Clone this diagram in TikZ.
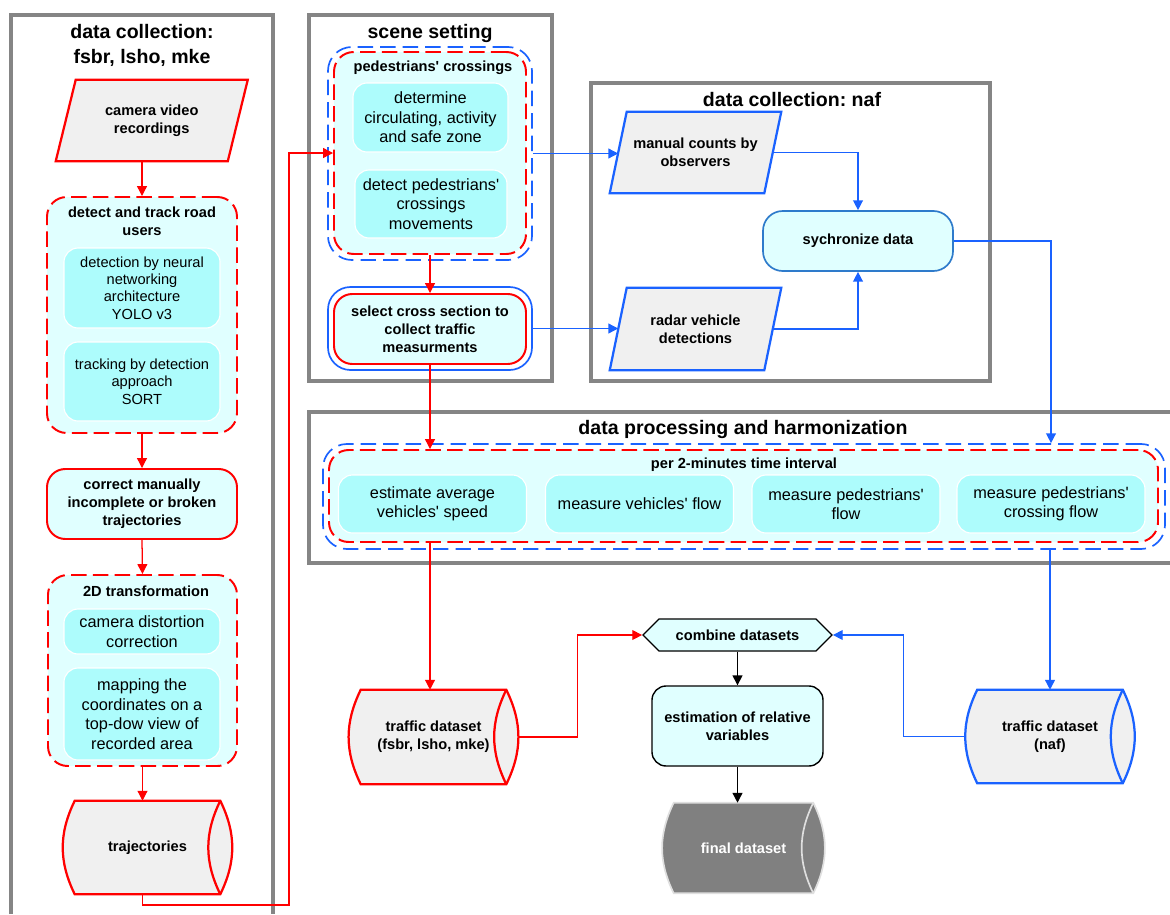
\documentclass[tikz,border=0pt]{standalone}
\usepackage{fontspec}
\setmainfont{Liberation Sans}
\frenchspacing
\usetikzlibrary{arrows.meta, calc, positioning, shapes.symbols, backgrounds}
\definecolor{fcRed}{HTML}{FF0000}
\definecolor{fcBlue}{HTML}{1A62FF}
\definecolor{fcSteel}{HTML}{2E7BCB}
\definecolor{fcLane}{HTML}{858585}
\definecolor{fcCyan}{HTML}{E0FFFF}
\definecolor{fcAqua}{HTML}{ADFCFC}
\definecolor{fcPaper}{HTML}{F0F0F0}
\definecolor{fcDark}{HTML}{808080}
\protected\def\apos{\textquotesingle}
% storage drum round a node: name, look
\newcommand{\drawstore}[2]{%
	\begin{pgfonlayer}{background}
	\draw[#2] ($(#1.north west)+(12,0)$) -- ($(#1.north east)+(-12,0)$)
		to[bend left=26] ($(#1.south east)+(-12,0)$) -- ($(#1.south west)+(12,0)$)
		to[bend left=26] ($(#1.north west)+(12,0)$) -- cycle;
	\draw[#2, fill=none] ($(#1.north east)+(-12,0)$) to[bend right=26] ($(#1.south east)+(-12,0)$);
	\end{pgfonlayer}}
% slanted input box round a node: name, look, slant
\newcommand{\drawinput}[3]{%
	\begin{pgfonlayer}{background}
	\draw[#2] ($(#1.north west)+(#3,0)$) -- ($(#1.north east)+(#3,0)$)
		-- ($(#1.south east)+(-#3,0)$) -- ($(#1.south west)+(-#3,0)$) -- cycle;
	\end{pgfonlayer}}

\begin{document}
\begin{tikzpicture}[x=0.025cm, y=-0.025cm, >={Triangle[length=7pt,width=7pt]},
		sz/.style 2 args={minimum width=#1*0.025cm, minimum height=#2*0.025cm},
		lane/.style={draw=fcLane, line width=2.5pt},
		ttl/.style={font=\fontsize{13.9}{17.8}\selectfont\bfseries, align=center},
		bold/.style={font=\fontsize{10.4}{12.8}\selectfont\bfseries, align=center},
		inbox/.style={draw=white, line width=0.8pt, fill=fcAqua, rounded corners=10pt, align=center, inner ysep=2pt, font=\fontsize{11.6}{13.9}\selectfont},
		inboxs/.style={inbox, font=\fontsize{10.4}{12.4}\selectfont},
		dashred/.style={draw=fcRed, line width=1.4pt, dash pattern=on 11pt off 4.5pt, rounded corners=14pt, fill=fcCyan},
		dashblue/.style={draw=fcBlue, line width=1.2pt, dash pattern=on 11pt off 5pt, rounded corners=17pt},
		proc/.style={bold, draw=fcRed, line width=1.4pt, fill=fcCyan, rounded corners=13pt},
		rcon/.style={draw=fcRed, line width=0.9pt, ->},
		bcon/.style={draw=fcBlue, line width=1pt, ->},
		kcon/.style={draw=black, line width=1pt, ->}]
	\useasboundingbox (0,0) rectangle (1170,914);

	% lanes
	\draw[lane] (11,914) -- (11,15) -- (273,15) -- (273,914);
	\draw[lane] (309,15) rectangle (552,381);
	\draw[lane] (591,83) rectangle (990,381);
	\draw[lane] (1170,412) -- (309,412) -- (309,563) -- (1170,563);
	\node[ttl] (t1) at (142,45) {data collection:\\fsbr, lsho, mke};
	\node[ttl] (t2) at (430,33) {scene setting};
	\node[ttl] (t3) at (792,100) {data collection: naf};
	\node[ttl] (t4) at (743,429) {data processing and harmonization};

	% data collection: fsbr, lsho, mke
	\node[bold, sz={171.5}{81}] (cam) at (151.75,120.5) {camera video\\recordings};
	\drawinput{cam}{draw=fcRed, line width=1.6pt, fill=fcPaper}{10}
	\node[dashred, sz={190}{236}] (track) at (142,315) {};
	\node[bold] (tracktl) at (142,221) {detect and track road\\users};
	\node[inboxs, sz={156}{80}] (yolo) at (142,288) {detection by neural\\networking\\architecture\\YOLO v3};
	\node[inboxs, sz={156}{79}] (sort) at (142,381.5) {tracking by detection\\approach\\SORT};
	\node[proc, sz={190}{70}] (fix) at (142,504) {correct manually\\incomplete or broken\\trajectories};
	\node[dashred, sz={189}{191}] (trans) at (142.5,670.5) {};
	\node[bold] (transtl) at (146,591) {2D transformation};
	\node[inbox, sz={156}{45}] (distort) at (142,631.5) {camera distortion\\correction};
	\node[inbox, sz={156}{92}] (mapping) at (142,714) {mapping the\\coordinates on a\\top-dow view of\\recorded area};
	\node[bold, sz={169}{93}] (traj) at (147.5,847.5) {trajectories};
	\drawstore{traj}{draw=fcRed, line width=1.6pt, fill=fcPaper}

	% scene setting
	\node[dashblue, sz={204}{213}] (pedout) at (430,153.5) {};
	\node[dashred, sz={192}{202}] (ped) at (430,153) {};
	\node[bold] (pedtl) at (433,68) {pedestrians\apos{} crossings};
	\node[inbox, sz={155}{69}] (zone) at (430.5,117.5) {determine\\circulating, activity\\and safe zone};
	\node[inbox, sz={152}{68}] (move) at (431,204) {detect pedestrians\apos\\crossings\\movements};
	\node[draw=fcBlue, line width=1.2pt, rounded corners=16pt, sz={204}{83}] (selout) at (430,328.5) {};
	\node[proc, sz={192}{70}] (sel) at (430,329) {select cross section to\\collect traffic\\measurments};

	% data collection: naf
	\node[bold, sz={154}{81}] (manual) at (695.5,152.5) {manual counts by\\observers};
	\drawinput{manual}{draw=fcBlue, line width=1.6pt, fill=fcPaper}{8.5}
	\node[bold, sz={154}{82}] (radar) at (695.5,329) {radar vehicle\\detections};
	\drawinput{radar}{draw=fcBlue, line width=1.6pt, fill=fcPaper}{8.5}
	\node[bold, draw=fcSteel, line width=1.2pt, fill=fcCyan, rounded corners=14pt, sz={190}{60}] (sync) at (858,241) {sychronize data};

	% data processing and harmonization
	\node[dashblue, sz={842}{105}] (procout) at (744,496.5) {};
	\node[dashred, sz={829}{92}] (proc) at (743.5,496) {};
	\node[bold] (proctl) at (744,465) {per 2-minutes time interval};
	\node[inbox, sz={188}{58}] (speed) at (432.5,504) {estimate average\\vehicles\apos{} speed};
	\node[inbox, sz={188}{58}] (vflow) at (639.5,504) {measure vehicles\apos{} flow};
	\node[inbox, sz={188}{58}] (pflow) at (846,504) {measure pedestrians\apos\\flow};
	\node[inbox, sz={188}{58}] (cflow) at (1051,504) {measure pedestrians\apos\\crossing flow};

	% datasets
	\node[bold, sz={169}{94}] (fsbr) at (433.5,737) {traffic dataset\\(fsbr, lsho, mke)};
	\drawstore{fsbr}{draw=fcRed, line width=1.6pt, fill=fcPaper}
	\node[signal, signal to=east and west, signal pointer angle=90, draw=black, line width=0.9pt, fill=fcCyan, bold, sz={189}{32}, inner sep=0pt] (combine) at (737.5,635) {combine datasets};
	\node[bold, draw=black, line width=1pt, fill=fcCyan, rounded corners=10pt, sz={171}{80}] (relvar) at (737.5,726) {estimation of relative\\variables};
	\node[bold, text=white, sz={163}{90}] (final) at (743.5,848) {final dataset};
	\drawstore{final}{draw=white!75!gray, line width=1.2pt, fill=fcDark}
	\node[bold, sz={169}{93}] (naf) at (1050,736.5) {traffic dataset\\(naf)};
	\drawstore{naf}{draw=fcBlue, line width=1.6pt, fill=fcPaper}

	% connectors
	\coordinate (turn) at (289,905);
	\draw[rcon] (cam.south -| track.north) -- (track.north);
	\draw[rcon] (track.south) -- (fix.north);
	\draw[rcon] (fix.south) -- (trans.north);
	\draw[rcon] (trans.south) -- (trans.south |- traj.north);
	\draw[rcon] (trans.south |- traj.south) |- (turn) |- (ped.west);
	\draw[rcon] (ped.south) -- (sel.north);
	\draw[bcon] (pedout.east) -- (pedout.east -| manual.west);
	\draw[bcon] (selout.east) -- (selout.east -| radar.west);
	\draw[bcon] (manual.east) -| (sync.north);
	\draw[bcon] (radar.east) -| (sync.south);
	\draw[bcon] (sync.east) -| (cflow.north |- procout.north);
	\draw[rcon] (sel.south) -- (sel.south |- proc.north);
	\draw[rcon] (sel.south |- proc.south) -- (sel.south |- fsbr.north);
	\draw[bcon] (naf.north |- procout.south) -- (naf.north);
	\draw[rcon] (fsbr.east) -- ++(59,0) |- (combine.west);
	\draw[bcon] (naf.west) -- ++(-62,0) |- (combine.east);
	\draw[kcon] (combine.south) -- (relvar.north);
	\draw[kcon] (relvar.south) -- (relvar.south |- final.north);
\end{tikzpicture}
\end{document}
